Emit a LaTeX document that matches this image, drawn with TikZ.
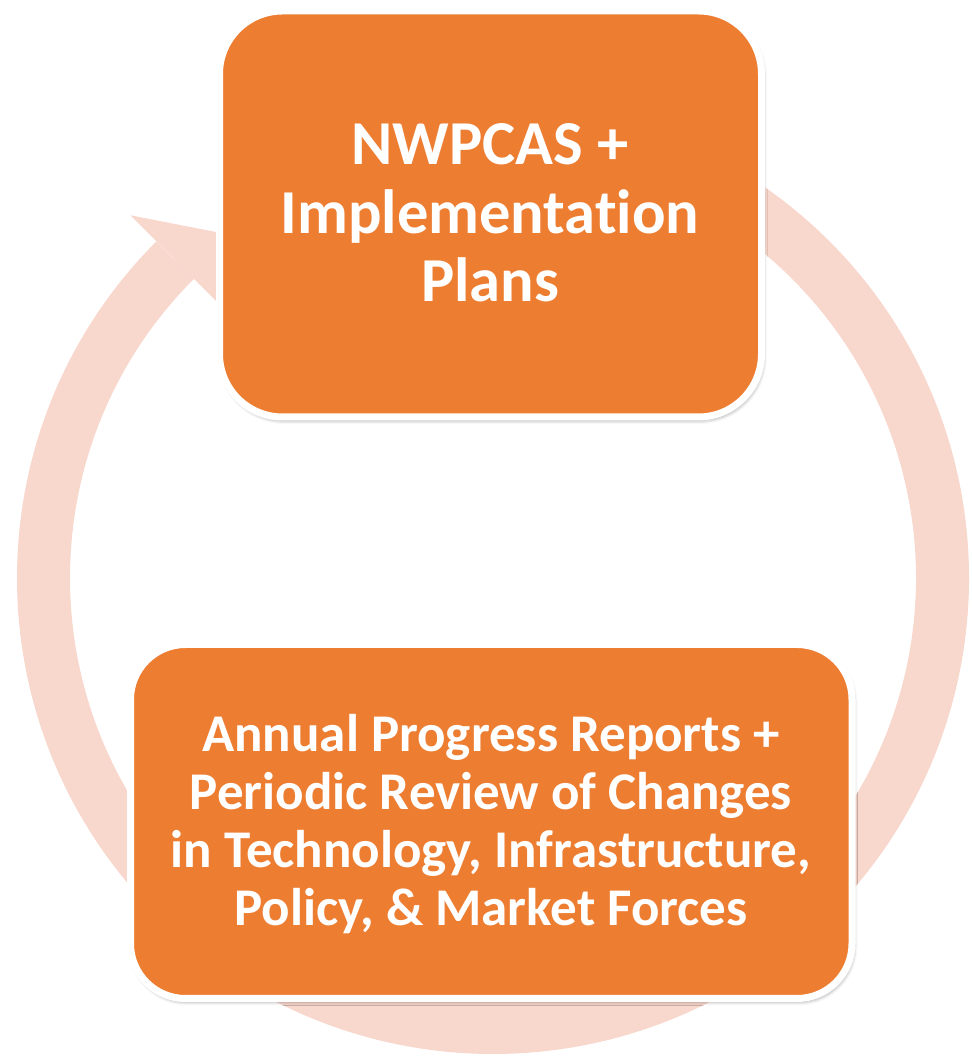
\documentclass[tikz,border=0pt]{standalone}
\usepackage{fontspec}
\setmainfont{Carlito}[Ligatures={NoCommon}]
\usetikzlibrary{shadows.blur,calc}
\definecolor{boxorange}{HTML}{ED7D31}
\definecolor{ringpink}{HTML}{F8D7CC}
\tikzset{
  ringarc/.style={draw=ringpink, line width=53pt},
  ringhead/.style={fill=ringpink, draw=none},
  cyclebox/.style={rectangle, fill=boxorange, draw=white, line width=7pt,
    inner sep=0pt, blur shadow={shadow xshift=1.5pt, shadow yshift=-3pt,
    shadow blur radius=4pt, shadow opacity=45}},
  boxtext/.style={text=white, align=center, inner sep=0pt,
    font=\bfseries}
}
\begin{document}
\begin{tikzpicture}[x=1pt,y=1pt]
\useasboundingbox (0,0) rectangle (971,1056);
\coordinate (c) at (493,478);
% ring arrow
\draw[ringarc] ($(c)+(135:449.5)$) arc[start angle=135, end angle=420, radius=449.5];
\coordinate (barbout) at ($(c)+(135:513)$);
\coordinate (barbin) at ($(c)+(135:386)$);
\coordinate (tip) at (226,822);
\fill[ringhead] (barbout) -- (tip) -- (barbin) -- cycle;
% boxes
\node[cyclebox, rounded corners=63pt, minimum width=542pt, minimum height=406pt] (topbox) at (490.5,842) {};
\node[cyclebox, rounded corners=55pt, minimum width=721.5pt, minimum height=354pt] (botbox) at (491.25,234.5) {};
\node[boxtext, font={\fontsize{62.5}{68.5}\selectfont\bfseries}] (toptext) at (490,843)
  {NWPCAS +\\Implementation\\Plans};
\node[boxtext, font={\fontsize{53}{58}\selectfont\bfseries}] (bottext) at (491,232)
  {Annual Progress Reports +\\Periodic Review of Changes\\in Technology, Infrastructure,\\Policy, \& Market Forces};
\end{tikzpicture}
\end{document}
